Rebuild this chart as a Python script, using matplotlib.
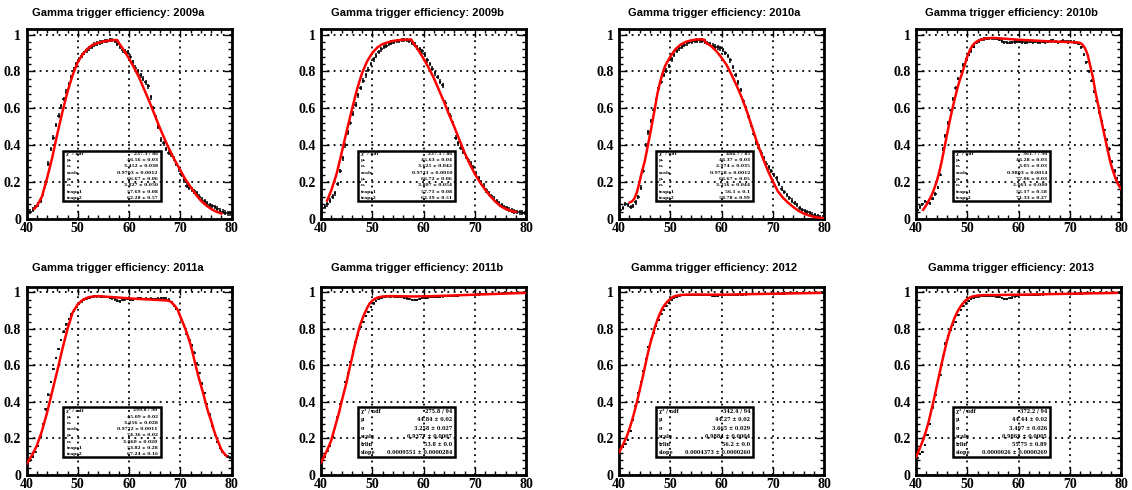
import numpy as np
import matplotlib
matplotlib.use("Agg")
import matplotlib.pyplot as plt
from matplotlib.ticker import MultipleLocator, FixedLocator
from matplotlib.patches import Rectangle

# ---------------- data ----------------
periods = ["2009a", "2009b", "2010a", "2010b", "2011a", "2011b", "2012", "2013"]
title_prefix = "Gamma trigger efficiency: "

# bin centres (0.5 wide bins from 40 to 80)
bin_centers = np.arange(40.25, 80.0, 0.5)

eff_2009a = [0.040, 0.040, 0.050, 0.065, 0.080, 0.100, 0.140, 0.200, 0.300, 0.380,
             0.440, 0.510, 0.560, 0.610, 0.650, 0.690, 0.730, 0.770, 0.810, 0.840,
             0.865, 0.885, 0.900, 0.915, 0.925, 0.935, 0.945, 0.950, 0.955, 0.960,
             0.965, 0.965, 0.970, 0.970, 0.965, 0.950, 0.935, 0.915, 0.910, 0.905,
             0.880, 0.850, 0.820, 0.800, 0.780, 0.760, 0.740, 0.720, 0.660, 0.600,
             0.550, 0.500, 0.430, 0.410, 0.380, 0.360, 0.350, 0.330, 0.300, 0.270,
             0.240, 0.210, 0.180, 0.170, 0.160, 0.150, 0.140, 0.120, 0.105, 0.095,
             0.085, 0.075, 0.070, 0.065, 0.055, 0.045, 0.040, 0.035, 0.030, 0.030]
eff_2009b = [0.060, 0.065, 0.080, 0.100, 0.120, 0.140, 0.190, 0.260, 0.330, 0.400,
             0.470, 0.520, 0.570, 0.620, 0.670, 0.710, 0.750, 0.780, 0.810, 0.840,
             0.865, 0.885, 0.905, 0.920, 0.935, 0.940, 0.950, 0.955, 0.960, 0.965,
             0.965, 0.970, 0.970, 0.970, 0.965, 0.955, 0.945, 0.930, 0.920, 0.910,
             0.890, 0.860, 0.840, 0.815, 0.790, 0.770, 0.745, 0.725, 0.630, 0.590,
             0.560, 0.520, 0.440, 0.410, 0.385, 0.365, 0.340, 0.320, 0.300, 0.280,
             0.245, 0.220, 0.200, 0.180, 0.155, 0.140, 0.125, 0.110, 0.095, 0.085,
             0.075, 0.065, 0.057, 0.050, 0.046, 0.042, 0.038, 0.036, 0.034, 0.033]
eff_2010a = [0.050, 0.060, 0.080, 0.075, 0.065, 0.070, 0.090, 0.120, 0.170, 0.260,
             0.400, 0.470, 0.530, 0.590, 0.645, 0.710, 0.745, 0.780, 0.805, 0.830,
             0.865, 0.890, 0.910, 0.925, 0.935, 0.945, 0.952, 0.958, 0.962, 0.965,
             0.967, 0.968, 0.967, 0.962, 0.955, 0.948, 0.940, 0.935, 0.930, 0.925,
             0.915, 0.900, 0.885, 0.860, 0.825, 0.780, 0.740, 0.700, 0.640, 0.600,
             0.560, 0.510, 0.460, 0.415, 0.385, 0.360, 0.330, 0.300, 0.280, 0.260,
             0.240, 0.220, 0.190, 0.165, 0.145, 0.130, 0.115, 0.100, 0.088, 0.075,
             0.060, 0.050, 0.042, 0.036, 0.030, 0.024, 0.019, 0.015, 0.011, 0.008]
eff_2010b = [0.050, 0.065, 0.080, 0.095, 0.090, 0.085, 0.110, 0.135, 0.170, 0.240,
             0.380, 0.450, 0.520, 0.590, 0.650, 0.710, 0.760, 0.800, 0.835, 0.865,
             0.890, 0.910, 0.935, 0.955, 0.965, 0.972, 0.976, 0.978, 0.980, 0.980,
             0.980, 0.978, 0.972, 0.965, 0.958, 0.955, 0.955, 0.958, 0.960, 0.962,
             0.962, 0.958, 0.955, 0.958, 0.962, 0.960, 0.962, 0.958, 0.960, 0.962,
             0.958, 0.962, 0.965, 0.968, 0.962, 0.958, 0.962, 0.965, 0.962, 0.960,
             0.962, 0.960, 0.955, 0.950, 0.930, 0.890, 0.850, 0.800, 0.750, 0.690,
             0.640, 0.580, 0.530, 0.480, 0.430, 0.380, 0.310, 0.260, 0.220, 0.180]
eff_2011a = [0.065, 0.080, 0.100, 0.125, 0.160, 0.210, 0.280, 0.360, 0.440, 0.510,
             0.580, 0.640, 0.690, 0.740, 0.785, 0.825, 0.855, 0.880, 0.900, 0.920,
             0.940, 0.952, 0.962, 0.968, 0.972, 0.976, 0.978, 0.978, 0.978, 0.977,
             0.976, 0.974, 0.972, 0.968, 0.962, 0.955, 0.952, 0.958, 0.962, 0.965,
             0.960, 0.958, 0.965, 0.968, 0.968, 0.965, 0.966, 0.964, 0.966, 0.964,
             0.962, 0.966, 0.968, 0.970, 0.966, 0.960, 0.948, 0.930, 0.910, 0.885,
             0.850, 0.820, 0.775, 0.740, 0.710, 0.670, 0.610, 0.560, 0.500, 0.450,
             0.390, 0.330, 0.270, 0.220, 0.180, 0.150, 0.125, 0.110, 0.100, 0.095]
eff_2011b = [0.080, 0.100, 0.130, 0.160, 0.210, 0.260, 0.320, 0.390, 0.440, 0.510,
             0.560, 0.620, 0.680, 0.730, 0.770, 0.810, 0.840, 0.870, 0.895, 0.920,
             0.940, 0.955, 0.965, 0.972, 0.976, 0.978, 0.978, 0.978, 0.978, 0.977,
             0.976, 0.974, 0.970, 0.967, 0.964, 0.960, 0.958, 0.960, 0.963, 0.968,
             0.972, 0.972, 0.973, 0.975, 0.975, 0.976, 0.977, 0.978, 0.979, 0.980,
             0.980, 0.981, 0.982, 0.983, 0.984, 0.985, 0.985, 0.986, 0.987, 0.988,
             0.988, 0.989, 0.990, 0.990, 0.991, 0.992, 0.992, 0.993, 0.993, 0.994,
             0.994, 0.995, 0.995, 0.996, 0.996, 0.997, 0.997, 0.997, 0.998, 0.998]
eff_2012 = [0.140, 0.155, 0.170, 0.190, 0.240, 0.300, 0.380, 0.450, 0.510, 0.570,
            0.635, 0.700, 0.745, 0.780, 0.815, 0.850, 0.880, 0.905, 0.925, 0.945,
            0.960, 0.970, 0.976, 0.980, 0.984, 0.986, 0.987, 0.988, 0.988, 0.988,
            0.988, 0.987, 0.987, 0.986, 0.985, 0.984, 0.983, 0.982, 0.982, 0.984,
            0.985, 0.986, 0.986, 0.987, 0.987, 0.988, 0.988, 0.989, 0.989, 0.989,
            0.990, 0.990, 0.990, 0.991, 0.991, 0.991, 0.992, 0.992, 0.992, 0.993,
            0.993, 0.993, 0.994, 0.994, 0.994, 0.995, 0.995, 0.995, 0.996, 0.996,
            0.996, 0.996, 0.997, 0.997, 0.997, 0.997, 0.998, 0.998, 0.998, 0.998]
eff_2013 = [0.095, 0.115, 0.125, 0.165, 0.220, 0.280, 0.370, 0.440, 0.520, 0.550,
            0.650, 0.720, 0.760, 0.795, 0.820, 0.840, 0.875, 0.905, 0.925, 0.940,
            0.955, 0.965, 0.972, 0.976, 0.978, 0.980, 0.981, 0.981, 0.981, 0.980,
            0.979, 0.977, 0.974, 0.970, 0.966, 0.965, 0.968, 0.972, 0.978, 0.982,
            0.984, 0.985, 0.986, 0.986, 0.987, 0.987, 0.988, 0.988, 0.989, 0.989,
            0.990, 0.990, 0.990, 0.991, 0.991, 0.991, 0.992, 0.992, 0.992, 0.993,
            0.993, 0.993, 0.994, 0.994, 0.994, 0.995, 0.995, 0.995, 0.995, 0.996,
            0.996, 0.996, 0.996, 0.997, 0.997, 0.997, 0.997, 0.998, 0.998, 0.998]

# approximate per-point uncertainty for each period
eff_err = {"2009a": 0.013, "2009b": 0.013, "2010a": 0.012, "2010b": 0.009,
           "2011a": 0.007, "2011b": 0.006, "2012": 0.006, "2013": 0.006}

# fitted curves
fit_x_2009a = [41.5, 42, 43, 44, 45, 46, 47, 48, 49, 50, 51, 52, 53, 54, 55, 56, 57, 57.7,
               58, 59, 60, 61, 62, 63, 64, 65, 66, 67, 68, 69, 70, 71, 72, 73, 74, 75, 76, 77, 78]
fit_y_2009a = [0.055, 0.07, 0.12, 0.22, 0.33, 0.46, 0.58, 0.69, 0.78, 0.85, 0.895, 0.925, 0.945,
               0.955, 0.962, 0.967, 0.970, 0.970, 0.955, 0.915, 0.87, 0.82, 0.765, 0.70, 0.635,
               0.565, 0.495, 0.43, 0.37, 0.315, 0.265, 0.215, 0.175, 0.135, 0.10, 0.075, 0.055,
               0.04, 0.03]
fit_x_2009b = [41.2, 42, 43, 44, 45, 46, 47, 48, 49, 50, 51, 52, 53, 54, 55, 56, 57, 57.6,
               58, 59, 60, 61, 62, 63, 64, 65, 66, 67, 68, 69, 70, 71, 72, 73, 74, 75, 76, 77, 78]
fit_y_2009b = [0.10, 0.155, 0.24, 0.355, 0.475, 0.59, 0.70, 0.79, 0.855, 0.90, 0.93, 0.948, 0.958,
               0.965, 0.969, 0.972, 0.973, 0.973, 0.955, 0.915, 0.87, 0.82, 0.765, 0.70, 0.635,
               0.565, 0.50, 0.43, 0.36, 0.30, 0.245, 0.20, 0.16, 0.125, 0.095, 0.07, 0.055,
               0.045, 0.038]
fit_x_2010a = [42.1, 42.5, 43, 43.5, 44, 44.5, 45, 45.5, 46, 46.5, 47, 47.5, 48, 48.5, 49, 50,
               51, 52, 53, 54, 55, 56, 56.6, 57, 58, 59, 60, 61, 62, 63, 64, 65, 66, 67, 68, 69,
               70, 71, 72, 73, 74, 75, 76, 77, 78, 79, 80]
fit_y_2010a = [0.09, 0.095, 0.11, 0.145, 0.20, 0.26, 0.31, 0.38, 0.45, 0.525, 0.60, 0.68, 0.74,
               0.79, 0.83, 0.88, 0.92, 0.945, 0.96, 0.968, 0.973, 0.974, 0.972, 0.955, 0.937,
               0.91, 0.875, 0.835, 0.78, 0.72, 0.655, 0.58, 0.495, 0.41, 0.335, 0.265, 0.205,
               0.15, 0.115, 0.088, 0.065, 0.045, 0.03, 0.02, 0.012, 0.007, 0.004]
fit_x_2010b = [41.4, 42, 42.5, 43, 43.5, 44, 44.5, 45, 45.5, 46, 46.5, 47, 47.5, 48, 48.5, 49,
               49.5, 50, 50.5, 51, 51.5, 52, 53, 54, 55, 56, 58, 60, 62, 64, 66, 68, 70, 71.5,
               72, 72.5, 73, 73.5, 74, 74.5, 75, 75.5, 76, 76.5, 77, 77.5, 78, 78.5, 79, 79.5, 80]
fit_y_2010b = [0.05, 0.075, 0.10, 0.125, 0.16, 0.20, 0.25, 0.31, 0.38, 0.45, 0.52, 0.585, 0.645,
               0.70, 0.75, 0.79, 0.835, 0.88, 0.915, 0.94, 0.955, 0.965, 0.975, 0.98, 0.982,
               0.98, 0.976, 0.972, 0.969, 0.966, 0.963, 0.961, 0.959, 0.957, 0.955, 0.945,
               0.925, 0.89, 0.83, 0.77, 0.69, 0.625, 0.555, 0.49, 0.425, 0.36, 0.30, 0.255,
               0.215, 0.185, 0.165]
fit_x_2011a = [40, 41, 42, 43, 44, 45, 46, 47, 48, 49, 50, 51, 52, 53, 54, 55, 57, 59, 61, 63,
               65, 67, 67.6, 68, 68.5, 69, 69.5, 70, 70.5, 71, 71.5, 72, 72.5, 73, 73.5, 74,
               74.5, 75, 75.5, 76, 76.5, 77, 77.5, 78, 78.5, 79]
fit_y_2011a = [0.06, 0.105, 0.16, 0.24, 0.34, 0.455, 0.57, 0.69, 0.80, 0.89, 0.935, 0.96, 0.973,
               0.978, 0.98, 0.978, 0.974, 0.97, 0.966, 0.963, 0.96, 0.957, 0.955, 0.952, 0.94,
               0.925, 0.905, 0.87, 0.835, 0.80, 0.76, 0.715, 0.66, 0.60, 0.545, 0.495, 0.445,
               0.39, 0.34, 0.30, 0.25, 0.21, 0.175, 0.14, 0.12, 0.105]
fit_x_2011b = [40, 40.5, 41, 41.5, 42, 42.5, 43, 43.5, 44, 44.5, 45, 45.5, 46, 46.5, 47, 47.5,
               48, 48.5, 49, 49.5, 50, 50.5, 51, 52, 53, 54, 56, 58, 60, 62, 64, 66, 68, 70, 72,
               74, 76, 78, 80]
fit_y_2011b = [0.068, 0.095, 0.125, 0.155, 0.19, 0.24, 0.29, 0.34, 0.40, 0.455, 0.51, 0.575,
               0.635, 0.70, 0.755, 0.81, 0.85, 0.885, 0.915, 0.94, 0.955, 0.965, 0.972, 0.978,
               0.98, 0.98, 0.979, 0.978, 0.979, 0.98, 0.982, 0.984, 0.986, 0.988, 0.99, 0.992,
               0.994, 0.996, 0.998]
fit_x_2012 = [40, 40.5, 41, 41.5, 42, 42.5, 43, 43.5, 44, 44.5, 45, 45.5, 46, 46.5, 47, 47.5,
              48, 48.5, 49, 49.5, 50, 50.5, 51, 52, 53, 54, 56, 58, 60, 62, 64, 66, 68, 70, 72,
              74, 76, 78, 79.3]
fit_y_2012 = [0.125, 0.15, 0.18, 0.21, 0.25, 0.295, 0.345, 0.40, 0.46, 0.52, 0.585, 0.65, 0.71,
              0.76, 0.81, 0.85, 0.885, 0.915, 0.935, 0.952, 0.965, 0.975, 0.981, 0.986, 0.988,
              0.989, 0.989, 0.988, 0.988, 0.989, 0.99, 0.991, 0.992, 0.993, 0.994, 0.995, 0.996,
              0.997, 0.998]
fit_x_2013 = [40, 40.5, 41, 41.5, 42, 42.5, 43, 43.5, 44, 44.5, 45, 45.5, 46, 46.5, 47, 47.5,
              48, 48.5, 49, 49.5, 50, 50.5, 51, 52, 53, 54, 56, 58, 60, 62, 64, 66, 68, 70, 72,
              74, 76, 78, 79.2]
fit_y_2013 = [0.10, 0.13, 0.165, 0.20, 0.245, 0.295, 0.355, 0.415, 0.48, 0.545, 0.61, 0.67,
              0.73, 0.78, 0.82, 0.86, 0.89, 0.915, 0.935, 0.952, 0.964, 0.972, 0.978, 0.983,
              0.985, 0.986, 0.986, 0.987, 0.988, 0.989, 0.99, 0.991, 0.992, 0.993, 0.994, 0.995,
              0.996, 0.997, 0.998]

# fit statistics boxes
stat_names_trapz = ["χ² / ndf", "μ₁", "σ₁", "scale", "μ₂", "σ₂", "trapz1", "trapz2"]
stat_names_lin = ["χ² / ndf", "μ", "σ", "scale", "trlin", "slope"]
stats_2009a = ["237.3 / 86", "46.56 ± 0.03", "3.452 ± 0.038", "0.9703 ± 0.0012",
               "66.67 ± 0.06", "3.827 ± 0.050", "57.69 ± 0.08", "62.28 ± 0.57"]
stats_2009b = ["237.1 / 86", "45.63 ± 0.04", "3.625 ± 0.042", "0.9731 ± 0.0010",
               "66.72 ± 0.06", "3.807 ± 0.054", "57.71 ± 0.08", "62.19 ± 0.51"]
stats_2010a = ["484.7 / 85", "46.37 ± 0.03", "2.974 ± 0.035", "0.9758 ± 0.0012",
               "66.67 ± 0.05", "3.256 ± 0.044", "56.1 ± 0.1", "58.78 ± 0.99"]
stats_2010b = ["361.7 / 90", "46.28 ± 0.03", "3.05 ± 0.03", "0.9803 ± 0.0014",
               "77.06 ± 0.03", "2.061 ± 0.040", "55.17 ± 0.58", "71.33 ± 0.27"]
stats_2011a = ["299.8 / 90", "45.09 ± 0.02", "3.256 ± 0.028", "0.9772 ± 0.0011",
               "74.36 ± 0.02", "3.060 ± 0.020", "53.82 ± 0.28", "67.24 ± 0.16"]
stats_2011b = ["275.8 / 94", "44.84 ± 0.02", "3.258 ± 0.027", "0.9377 ± 0.0007",
               "53.8 ± 0.0", "0.0009551 ± 0.0000284"]
stats_2012 = ["342.4 / 94", "44.27 ± 0.02", "3.665 ± 0.029", "0.9884 ± 0.0004",
              "56.2 ± 0.0", "0.0004373 ± 0.0000260"]
stats_2013 = ["372.2 / 94", "44.44 ± 0.02", "3.497 ± 0.026", "0.9865 ± 0.0005",
              "55.75 ± 0.89", "0.0000026 ± 0.0000269"]

efficiencies = [eff_2009a, eff_2009b, eff_2010a, eff_2010b, eff_2011a, eff_2011b, eff_2012, eff_2013]
fits_x = [fit_x_2009a, fit_x_2009b, fit_x_2010a, fit_x_2010b, fit_x_2011a, fit_x_2011b, fit_x_2012, fit_x_2013]
fits_y = [fit_y_2009a, fit_y_2009b, fit_y_2010a, fit_y_2010b, fit_y_2011a, fit_y_2011b, fit_y_2012, fit_y_2013]
stats = [stats_2009a, stats_2009b, stats_2010a, stats_2010b, stats_2011a, stats_2011b, stats_2012, stats_2013]

# ---------------- layout ----------------
W, H = 1132, 490
fig = plt.figure(figsize=(W / 100, H / 100), dpi=100)
fig.patch.set_facecolor("white")

ax_lefts = [26.5, 321, 619, 916]
ax_w = 205
row_top = [29, 287]
row_bot = [219, 475]
title_x = [118, 417, 714, 1011]
title_y = [13, 268]

tick_font = dict(family="Liberation Serif", weight="bold", size=10)

for i, period in enumerate(periods):
    r, c = divmod(i, 4)
    ax = fig.add_axes([ax_lefts[c] / W, 1 - row_bot[r] / H, ax_w / W, (row_bot[r] - row_top[r]) / H])
    ax.set_xlim(40, 80)
    ax.set_ylim(0, 1.03)
    ax.xaxis.set_major_locator(FixedLocator([40, 50, 60, 70, 80]))
    ax.xaxis.set_minor_locator(MultipleLocator(2))
    ax.yaxis.set_major_locator(FixedLocator([0, 0.2, 0.4, 0.6, 0.8, 1.0]))
    ax.yaxis.set_minor_locator(MultipleLocator(0.04))
    ax.set_yticklabels(["0", "0.2", "0.4", "0.6", "0.8", "1"], **tick_font)
    ax.set_xticklabels(["40", "50", "60", "70", "80"], **tick_font)
    ax.tick_params(which="both", direction="in", top=True, right=True, width=1.0, colors="black")
    ax.tick_params(which="major", length=6)
    ax.tick_params(which="minor", length=3)
    ax.tick_params(axis="y", pad=4)
    ax.tick_params(axis="x", pad=2)
    for s in ax.spines.values():
        s.set_linewidth(2.0)
    ax.grid(True, which="major", color="black", linestyle=(0, (1, 2.5)), linewidth=1.3)
    ax.set_axisbelow(True)

    ax.errorbar(bin_centers, efficiencies[i], xerr=0.25, yerr=eff_err[period],
                fmt="none", ecolor="black", elinewidth=1.1, capsize=0, zorder=3)
    ax.plot(fits_x[i], fits_y[i], color="#ff0000", linewidth=1.8, zorder=4)

    # statistics box (transparent, as in the reference)
    bx0, bx1, by0, by1 = 0.18, 0.655, 0.095, 0.36
    ax.add_patch(Rectangle((bx0, by0), bx1 - bx0, by1 - by0, transform=ax.transAxes,
                           facecolor="none", edgecolor="black", linewidth=1.8, zorder=6))
    names = stat_names_trapz if len(stats[i]) == 8 else stat_names_lin
    n = len(names)
    row_h = (by1 - by0) / n
    fs = 3.2 if n == 8 else 3.5
    for k, (nm, val) in enumerate(zip(names, stats[i])):
        yy = by1 - (k + 0.5) * row_h
        ax.text(bx0 + 0.015, yy, nm, transform=ax.transAxes, ha="left", va="center",
                fontsize=fs, family="DejaVu Serif", weight="bold", zorder=7)
        ax.text(bx1 - 0.015, yy, val, transform=ax.transAxes, ha="right", va="center",
                fontsize=fs, family="DejaVu Serif", weight="bold", zorder=7)

    fig.text(title_x[c] / W, 1 - title_y[r] / H, title_prefix + period, ha="center", va="center",
             fontsize=8, family="Liberation Sans", weight="bold")

fig.savefig("out.png", dpi=100, facecolor="white")
